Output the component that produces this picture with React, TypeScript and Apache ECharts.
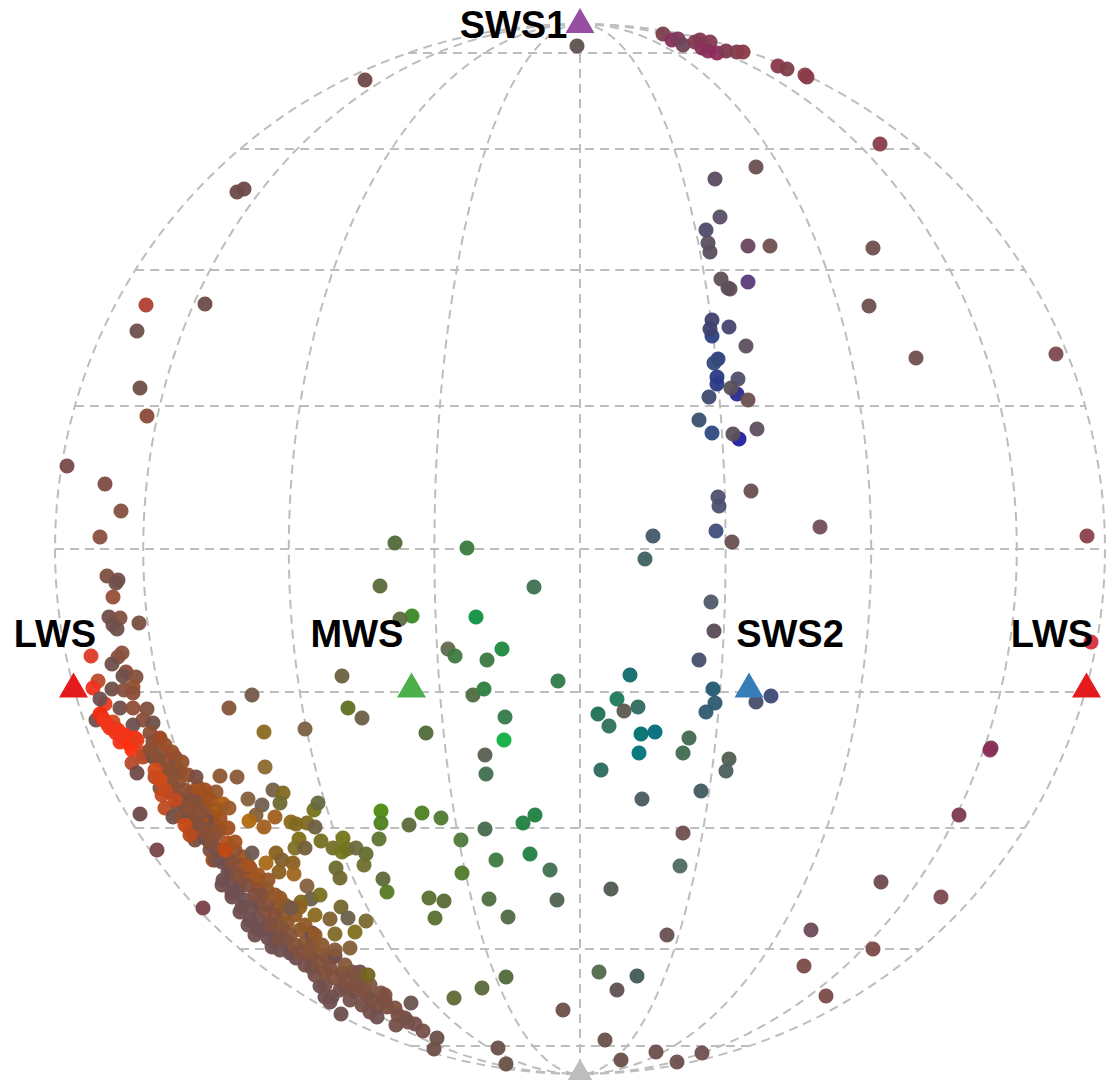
import React, { useEffect, useRef } from "react";
import * as echarts from "echarts";

type P = [number, number, string];

const parallels = [-496, -400, -279, -143, 0, 143, 279, 400, 497];
const meridians = [0, 145.6, 291.2, 436.8, 525];

const topArc: P[] = [
  [663,34,"#7a3f4c"],[672,40,"#8a2f60"],[678,39,"#7d3a58"],[683,45,"#6f4558"],[695,42,"#843a50"],[700,40,"#843a50"],
  [702,48,"#8a3058"],[710,42,"#843a50"],[708,51,"#8a2f5e"],[717,53,"#8f2a5c"],[726,51,"#803a50"],[737,52,"#803c4c"],
  [743,52,"#8a3a48"],[778,66,"#8a3a48"],[787,69,"#7d3f48"],[805,75,"#8f3c48"],[807,77,"#8a3c48"],[880,144,"#8c3a50"],
  [577,46,"#5f5250"],[365,80,"#6f4848"],
];

const leftEdge: P[] = [
  [237,192,"#6e4a48"],[244,189,"#6e4a48"],[146,305,"#b04030"],[205,304,"#6e4c48"],[137,331,"#70504a"],[140,388,"#70504a"],
  [147,416,"#8a4c38"],[67,466,"#784a48"],[105,484,"#7d4c42"],[121,511,"#85503f"],[100,537,"#8a5040"],[107,576,"#7d5040"],
  [118,580,"#75504a"],[116,583,"#70504a"],[113,597,"#96503a"],[109,617,"#6f4f48"],[120,618,"#85503f"],[113,625,"#70504a"],
  [117,629,"#70504a"],[139,623,"#7a4f42"],[91,656,"#e03a28"],[118,657,"#8a5040"],[122,653,"#8a5040"],[112,664,"#70504a"],
  [126,672,"#8a4c38"],[123,676,"#6f504a"],[136,677,"#85503f"],[98,681,"#c04a2a"],[93,688,"#f03020"],[112,689,"#704f4a"],
  [124,690,"#85503f"],[133,687,"#95522f"],[133,693,"#8a4f38"],[105,704,"#e83a20"],[100,699,"#704f50"],[120,708,"#70504a"],
  [133,708,"#8f4f38"],[147,709,"#80503f"],[96,720,"#704f4a"],[102,717,"#f02a10"],[113,722,"#d04a20"],[115,728,"#c04a25"],
  [100,714,"#f02a10"],[104,720,"#f0351a"],[110,728,"#f0351a"],[116,733,"#f0351a"],[120,742,"#f0351a"],[128,742,"#f0351a"],
  [143,720,"#8a4f38"],[133,725,"#704f50"],[153,723,"#70504a"],[108,725,"#f0351a"],[118,730,"#f0351a"],[125,735,"#ff3010"],
  [122,738,"#f0351a"],[125,737,"#f0351a"],[135,738,"#ff3010"],[130,745,"#ff3010"],[132,750,"#ff3010"],[137,740,"#e83a1a"],
  [143,753,"#d04a20"],[150,733,"#8a5035"],[160,738,"#a04a25"],[153,742,"#80503a"],[160,740,"#a04a25"],[132,763,"#b84a2a"],
  [137,773,"#704a48"],
];

const bandLower: P[] = [
  [168,790,"#75504a"],[178,805,"#75504a"],[188,815,"#704f4a"],[198,825,"#75504a"],[205,838,"#704f4a"],[215,848,"#75504a"],
  [222,862,"#704f4f"],[228,872,"#704f50"],[222,885,"#704f50"],[230,880,"#704f50"],[232,897,"#704f50"],[238,890,"#704f50"],
  [245,900,"#704f50"],[240,912,"#704f50"],[252,908,"#704f50"],[248,925,"#704f50"],[258,918,"#704f50"],[262,930,"#704f50"],
  [255,935,"#704f50"],[268,938,"#704f50"],[272,947,"#704f50"],[280,950,"#704f50"],[286,940,"#75504a"],[296,958,"#704f50"],
  [305,965,"#75504a"],[315,975,"#75504a"],[325,985,"#75504a"],[340,990,"#75504a"],[350,1000,"#75504a"],[362,1005,"#75504a"],
  [370,1012,"#75504a"],
];

const bandMid: P[] = [
  [150,750,"#8a5035"],[158,760,"#8a5035"],[168,770,"#8a5035"],[180,772,"#8a5035"],[172,785,"#8a5035"],[185,790,"#8a5035"],
  [178,798,"#85503a"],[195,800,"#85503a"],[188,808,"#8a5035"],[200,812,"#85503a"],[205,808,"#8a5035"],[195,820,"#85503a"],
  [205,832,"#8a5035"],[215,835,"#8a5035"],[220,830,"#8f5030"],[212,842,"#85503a"],[225,850,"#8f5030"],[235,850,"#8f5030"],
  [232,862,"#85503a"],[240,865,"#8a5035"],[238,875,"#85503a"],[250,868,"#8f5030"],[248,885,"#80503f"],[258,880,"#8f5030"],
  [262,895,"#85503a"],[255,895,"#80503f"],[268,905,"#85503a"],[265,912,"#80503f"],[275,915,"#85503a"],[272,925,"#80503f"],
  [282,928,"#85533a"],[290,935,"#85533a"],[280,938,"#7a5040"],[295,945,"#85533a"],[300,952,"#80503a"],[310,952,"#85533a"],
  [318,962,"#80503a"],[325,972,"#80503a"],[335,978,"#80503f"],[345,980,"#80503f"],[355,985,"#7f5040"],[365,990,"#7f5040"],
  [372,1000,"#7a5045"],[385,1000,"#7a5045"],[398,1015,"#7a5045"],[408,1022,"#75504a"],
];

const bandUpper: P[] = [
  [155,770,"#d04a1a"],[160,780,"#d04a1a"],[165,745,"#9a4f2a"],[172,752,"#9a4f2a"],[182,762,"#95502a"],[188,775,"#95502a"],
  [165,790,"#c84a1a"],[175,800,"#c04a20"],[185,825,"#c84a1a"],[190,835,"#b84a1a"],[198,787,"#a0501f"],[210,800,"#a0501f"],
  [205,790,"#a0501f"],[220,818,"#a0501f"],[228,828,"#a0501f"],[225,850,"#c04a15"],[235,842,"#a5521f"],[248,865,"#a5521f"],
  [258,875,"#a0551f"],[268,880,"#95552a"],[275,895,"#95552a"],[285,905,"#90572a"],[295,915,"#8f5a28"],[305,925,"#8f5828"],
  [315,935,"#8f5828"],[322,945,"#8a5a30"],[335,950,"#85573a"],[345,965,"#85573a"],[358,975,"#805540"],[370,985,"#805540"],
  [385,995,"#7f5040"],
];

const denseBand: P[] = [
  [143,757,"#b84a25"],[153,757,"#704f4a"],[162,752,"#7f4f3f"],[175,757,"#80503f"],[165,763,"#904f35"],[175,768,"#80503f"],
  [155,777,"#b84a25"],[167,775,"#85503a"],[178,782,"#90502f"],[160,788,"#80503f"],[162,795,"#c04a20"],[172,792,"#90502f"],
  [192,793,"#c0501a"],[165,808,"#c04a20"],[182,803,"#80503a"],[190,800,"#75503f"],[198,803,"#704f45"],[193,803,"#75503f"],
  [208,795,"#a0551f"],[216,792,"#96582f"],[173,817,"#704f48"],[182,817,"#90502f"],[192,817,"#80503a"],[207,820,"#a0501f"],
  [212,817,"#70504a"],[203,823,"#a0501f"],[215,825,"#7a4f3f"],[190,830,"#a0501f"],[207,830,"#80503a"],[195,830,"#8a5035"],
  [195,840,"#7a4f3f"],[210,843,"#80503a"],[227,843,"#b0501a"],[210,850,"#7a5040"],[225,857,"#95502a"],[213,860,"#a0501f"],
  [220,858,"#90502f"],[215,860,"#80503f"],[227,860,"#90502f"],[243,857,"#a0551f"],[230,868,"#80503f"],[245,873,"#a0551f"],
  [253,877,"#8f5528"],[223,880,"#704f4f"],[247,875,"#a5521f"],[232,893,"#704f50"],[240,885,"#75504f"],[257,887,"#a0551f"],
  [267,890,"#8f5528"],[242,907,"#704f48"],[258,903,"#80503a"],[250,920,"#6f4f50"],[258,930,"#704f50"],[270,923,"#7a5040"],
  [277,907,"#8f5828"],[280,898,"#8f5a25"],[275,937,"#704f50"],[276,943,"#704f50"],[287,923,"#8f5828"],[283,915,"#8f5a25"],
  [290,908,"#8a5a2a"],[277,933,"#704f50"],[300,930,"#8f5828"],[305,943,"#85552f"],[290,950,"#704f50"],[290,953,"#704f50"],
  [313,947,"#80503a"],[313,943,"#85553a"],[310,957,"#7a5040"],[323,955,"#85553a"],[333,957,"#7a5040"],[328,957,"#85553a"],
  [335,956,"#704f50"],[330,968,"#80503f"],[342,973,"#80503a"],[352,972,"#75503f"],[345,988,"#75503f"],[355,992,"#75503f"],
  [367,995,"#7f5040"],[381,993,"#7a5545"],[377,1007,"#7a5040"],[387,1007,"#7a5040"],[395,1008,"#7f5040"],[377,1017,"#704f50"],
  [396,1025,"#75504a"],[405,1018,"#75504a"],[415,1024,"#75504a"],[423,1031,"#75504a"],[312,968,"#704f50"],[320,986,"#704f50"],
  [325,997,"#704f50"],[332,997,"#704f50"],[330,1002,"#704f50"],[341,1014,"#704f50"],[411,1003,"#6a5550"],[437,1038,"#6a4f48"],
  [434,1049,"#6a4f48"],[360,972,"#6f5050"],[359,980,"#6a5550"],[312,933,"#704f50"],[140,814,"#6f4848"],[157,850,"#784448"],
  [203,908,"#784048"],[312,934,"#704f50"],
];

const oliveCloud: P[] = [
  [196,777,"#7a4f42"],[220,776,"#8d5a33"],[237,777,"#8a5a3a"],[252,695,"#755a4a"],[229,708,"#85553a"],[264,732,"#8a6a20"],
  [265,767,"#8a6a2f"],[273,790,"#75604a"],[283,793,"#806a20"],[280,803,"#706a30"],[223,804,"#b05a10"],[217,810,"#a05518"],
  [229,808,"#9a5a2a"],[248,799,"#85603a"],[262,805,"#706050"],[256,815,"#85603a"],[249,821,"#b06a10"],[275,817,"#a0601f"],
  [264,827,"#a0601f"],[291,822,"#90681f"],[296,824,"#80681f"],[307,823,"#806a1f"],[314,810,"#75751a"],[318,803,"#656a3f"],
  [315,827,"#6f6040"],[321,841,"#757020"],[343,838,"#75751a"],[299,839,"#80701a"],[295,848,"#807028"],[305,848,"#755f3a"],
  [333,848,"#757028"],[342,852,"#75751f"],[347,849,"#6f751f"],[356,848,"#6f6a3f"],[366,854,"#606f30"],[364,865,"#706f2f"],
  [336,868,"#6f6a30"],[340,878,"#70682f"],[276,853,"#8a601f"],[282,860,"#7f6030"],[293,863,"#8a6020"],[266,863,"#a56a15"],
  [279,872,"#8a6020"],[294,874,"#a0651f"],[252,853,"#6f5a4f"],[307,886,"#85603f"],[311,899,"#6a5f50"],[320,895,"#7a701f"],
  [301,902,"#7f6a20"],[300,907,"#8f6020"],[291,908,"#75584a"],[315,915,"#8a6a20"],[341,907,"#75682f"],[348,918,"#6a5f48"],
  [330,919,"#7f6030"],[366,921,"#7a6a30"],[335,934,"#806a28"],[355,932,"#80701f"],[350,948,"#85603a"],[368,975,"#75651f"],
];

const greens: P[] = [
  [395,543,"#4f6a3a"],[467,548,"#3a7a3f"],[380,586,"#5a6a3a"],[534,587,"#3f7050"],[412,616,"#3a8a25"],[400,619,"#5f6a40"],
  [476,617,"#109040"],[448,649,"#5f6a50"],[455,656,"#3f7a3f"],[487,660,"#3a7a40"],[502,649,"#1f8a3f"],[342,676,"#6a6040"],
  [473,695,"#4f6a40"],[484,689,"#2f8040"],[558,681,"#2f7a4a"],[348,708,"#5f7020"],[362,718,"#6a6045"],[305,729,"#7a6040"],
  [426,733,"#506a3a"],[505,717,"#357a4a"],[504,740,"#10b040"],[485,755,"#5a6050"],[486,774,"#3f6f4f"],[381,811,"#4f8a10"],
  [381,823,"#4f7f20"],[379,839,"#5f7530"],[383,879,"#5f6a3a"],[387,892,"#5a7a25"],[422,813,"#4f8020"],[441,818,"#4f7a30"],
  [409,825,"#5f6a3a"],[485,829,"#456a4a"],[461,840,"#4f7a3a"],[535,815,"#1f8040"],[523,823,"#1f8040"],[530,854,"#1f8040"],
  [496,860,"#3f7a40"],[462,873,"#507a2a"],[550,870,"#3f7050"],[429,898,"#5a7030"],[444,901,"#5a6a35"],[489,899,"#4f6f3f"],
  [557,900,"#4f6050"],[435,918,"#5a7030"],[508,917,"#4f6a45"],[611,889,"#4f5a50"],[599,972,"#4f6a4a"],[637,976,"#3f5a55"],
  [617,990,"#5f5050"],[506,977,"#506a3a"],[482,988,"#5a6a3a"],[454,998,"#5f6a35"],[563,1010,"#6a5048"],
];

const bottomEdge: P[] = [
  [498,1048,"#6a5048"],[506,1064,"#6a5048"],[605,1040,"#6a5048"],[621,1060,"#6a4f4a"],[656,1052,"#6a4f4a"],[677,1062,"#6f4f4f"],
  [702,1053,"#6f4f4f"],
];

const teals: P[] = [
  [714,631,"#5a4a58"],[699,660,"#454f6a"],[630,675,"#0f6a6a"],[713,689,"#205a70"],[715,703,"#2f5a70"],[706,712,"#2f5a70"],
  [617,699,"#1f7a5a"],[638,707,"#2f6a60"],[624,711,"#5a5a50"],[598,714,"#207055"],[609,726,"#2f6f58"],[641,734,"#007070"],
  [655,732,"#006a7a"],[639,753,"#00727a"],[689,738,"#3f6a50"],[683,753,"#3f6a50"],[601,770,"#2a6a60"],[729,759,"#4f5f50"],
  [726,771,"#4a5f5f"],[701,791,"#405a60"],[642,799,"#4a5a5f"],[756,702,"#454f6a"],[771,696,"#3f4a7a"],[653,536,"#455a6a"],
  [645,559,"#3f6060"],[711,602,"#4f5a68"],[683,833,"#704f4f"],[680,866,"#4f6a5f"],[667,935,"#6a5050"],
];

const blues: P[] = [
  [715,179,"#5a4a60"],[756,167,"#6a4f50"],[720,217,"#5a4f68"],[706,230,"#4f4a68"],[708,243,"#5a4f60"],[710,252,"#5a4f5f"],
  [748,246,"#6a4560"],[770,246,"#704f50"],[721,279,"#5f5055"],[728,288,"#5f4f58"],[730,289,"#5f4f58"],[748,282,"#5a3a7a"],
  [712,336,"#2a3f85"],[712,320,"#40406f"],[710,329,"#40406f"],[729,327,"#454570"],[746,346,"#5f4f5f"],[718,359,"#2f3f7f"],
  [714,363,"#354a7a"],[717,377,"#2a3a85"],[717,384,"#2a3a85"],[737,394,"#2a2a8f"],[738,379,"#504f6a"],[731,388,"#5a4f5a"],
  [748,400,"#6a4f50"],[709,397,"#3f4a70"],[699,420,"#3a4f70"],[712,433,"#2f4a7f"],[757,429,"#5f4f5f"],[739,439,"#2020a0"],
  [733,434,"#5a4f5a"],[718,497,"#4f4f70"],[719,506,"#4f5070"],[716,531,"#404f7a"],[732,542,"#6a5050"],[751,491,"#6a5050"],
  [820,527,"#704f58"],
];

const rightEdge: P[] = [
  [873,248,"#704f50"],[869,306,"#704f50"],[916,358,"#704f50"],[1056,354,"#7a4a50"],[1087,536,"#8a4048"],[1091,642,"#d83040"],
  [991,748,"#7a3a50"],[990,750,"#8a2f5a"],[959,815,"#7a3a50"],[881,882,"#704a50"],[941,897,"#7a4a50"],[811,930,"#6f4a5a"],
  [873,949,"#7a4a48"],[804,966,"#7a4a48"],[826,996,"#7a4a48"],
];

const pointGroups = [topArc, leftEdge, denseBand, bandLower, bandMid, bandUpper, oliveCloud, greens, bottomEdge, teals, blues, rightEdge];

const cones: P[] = [
  [73.5,685,"#e41a1c"],[1086.5,685,"#e41a1c"],[411.5,685,"#4daf4a"],[749,685,"#377eb8"],[580,20.5,"#984ea3"],[580,1071.5,"#bdbdbd"],
];
const coneLabels: [string, number, number][] = [
  ["LWS",55,634],["MWS",357,634],["SWS2",790,634],["LWS",1052,634],["SWS1",513.5,25],
];

const CX = 580, CY = 549, R = 525;
const gridStyle = { color: "#bdbdbd", width: 2, type: [9, 6] as number[] };

function gridSeries() {
  const out: any[] = [];
  const base = { type: "line", symbol: "none", silent: true, clip: false, z: 1, lineStyle: gridStyle };
  parallels.forEach((d) => {
    const half = Math.sqrt(R * R - d * d);
    out.push({ ...base, data: [[CX - half, CY + d], [CX + half, CY + d]] });
  });
  meridians.forEach((a) => {
    (a === 0 ? [1] : [-1, 1]).forEach((side) => {
      const data: number[][] = [];
      for (let i = 0; i <= 120; i++) {
        const t = -Math.PI / 2 + (Math.PI * i) / 120;
        data.push([CX + side * a * Math.cos(t), CY + R * Math.sin(t)]);
      }
      out.push({ ...base, data });
    });
  });
  return out;
}

export default function App() {
  const ref = useRef<HTMLDivElement>(null);
  useEffect(() => {
    document.body.style.margin = "0";
    const chart = echarts.init(ref.current!, undefined, { renderer: "svg" });
    chart.setOption({
      animation: false,
      backgroundColor: "#ffffff",
      grid: { left: 0, right: 0, top: 0, bottom: 0 },
      xAxis: { type: "value", min: 0, max: 1114, show: false },
      yAxis: { type: "value", min: 0, max: 1080, inverse: true, show: false },
      series: [
        ...gridSeries(),
        ...pointGroups.map((g) => ({
          type: "scatter",
          symbolSize: 15,
          z: 2,
          silent: true,
          data: g.map(([x, y, c]) => ({ value: [x, y], itemStyle: { color: c, opacity: 0.95 } })),
        })),
        {
          type: "scatter",
          symbol: "triangle",
          symbolSize: [29, 25],
          z: 3,
          silent: true,
          data: cones.map(([x, y, c]) => ({ value: [x, y], itemStyle: { color: c, opacity: 1 } })),
        },
        {
          type: "scatter",
          symbolSize: 0,
          z: 4,
          silent: true,
          itemStyle: { opacity: 1 },
          data: coneLabels.map(([name, x, y]) => ({
            value: [x, y],
            itemStyle: { opacity: 1 },
            label: {
              show: true,
              position: "inside",
              formatter: name,
              color: "#000000",
              opacity: 1,
              fontSize: 38,
              fontWeight: "bold",
              fontFamily: "'Liberation Sans', Arial, sans-serif",
            },
          })),
        },
      ],
    });
    return () => chart.dispose();
  }, []);
  return <div ref={ref} style={{ width: 1114, height: 1080 }} />;
}
